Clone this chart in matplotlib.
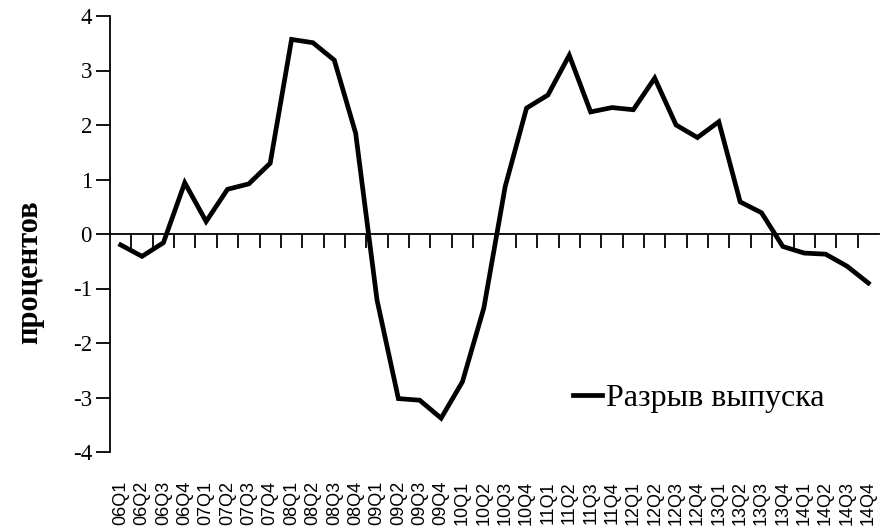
import matplotlib
matplotlib.use('Agg')
import matplotlib.pyplot as plt

# квартальные метки 06Q1 - 14Q4
quarters = [f"{y:02d}Q{q}" for y in range(6, 15) for q in range(1, 5)]

# разрыв выпуска, процентов
output_gap = [-0.20, -0.41, -0.16, 0.94, 0.23, 0.82, 0.92, 1.30,
              3.57, 3.51, 3.19, 1.85, -1.21, -3.02, -3.05, -3.38,
              -2.71, -1.36, 0.87, 2.31, 2.55, 3.28, 2.24, 2.32,
              2.28, 2.86, 2.00, 1.77, 2.06, 0.59, 0.39, -0.23,
              -0.35, -0.37, -0.59, -0.90]

y_ticks = [-4, -3, -2, -1, 0, 1, 2, 3, 4]

W, H = 880, 528
fig = plt.figure(figsize=(W / 100, H / 100), dpi=100)
ax = fig.add_axes([110 / W, 1 - 452 / H, (879 - 110) / W, (452 - 16) / H])

x = list(range(len(quarters)))
ax.plot(x, output_gap, color='black', linewidth=3.4, label='Разрыв выпуска',
        solid_joinstyle='miter')

ax.set_xlim(-0.5, len(quarters) - 0.5)
ax.set_ylim(-4, 4)

for side in ['top', 'right', 'bottom']:
    ax.spines[side].set_visible(False)
ax.spines['left'].set_linewidth(1.3)

ax.set_yticks(y_ticks)
ax.set_yticklabels([str(v) for v in y_ticks], family='Liberation Serif', fontsize=16.5)
ax.tick_params(axis='y', direction='out', length=10, width=1.3, pad=3)

# подписи кварталов внизу
ax.set_xticks(x)
ax.set_xticklabels(quarters, rotation=90, family='Liberation Sans', fontsize=13,
                   va='top', ha='center')
ax.tick_params(axis='x', length=0, pad=21)

# нулевая линия с делениями между кварталами
zero_axis = ax.secondary_xaxis(0.5)
for side in zero_axis.spines:
    zero_axis.spines[side].set_linewidth(1.3)
zero_axis.set_xticks([i + 0.5 for i in range(len(quarters) - 1)])
zero_axis.set_xticklabels([])
zero_axis.tick_params(axis='x', direction='in', length=10, width=1.3)

fig.text(30 / W, 1 - 272 / H, 'процентов', rotation=90, ha='center', va='center',
         family='Liberation Serif', fontweight='bold', fontsize=22)

ax.legend(loc='center left', bbox_to_anchor=(573 / W, 1 - 398 / H),
          bbox_transform=fig.transFigure, frameon=False, borderpad=0,
          borderaxespad=0, handlelength=0.92, handletextpad=0.12,
          prop={'family': 'Liberation Serif', 'size': 23})

fig.savefig('out.png', dpi=100)
